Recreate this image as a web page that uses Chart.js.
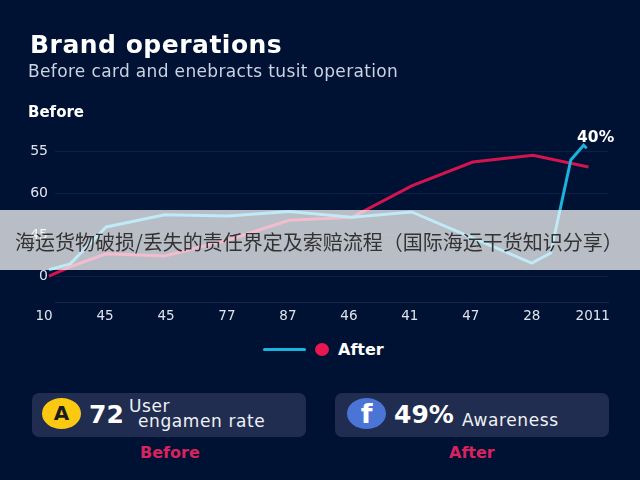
<!DOCTYPE html>
<html>
<head>
<meta charset="utf-8">
<script src="https://cdn.jsdelivr.net/npm/chart.js@4"></script>
<style>
body { margin: 0; background: #001233; }
#page { position: relative; width: 640px; height: 480px; overflow: hidden; background: #001233; font-family: 'DejaVu Sans', sans-serif; color: #fff; }
#page div { position: absolute; white-space: nowrap; }
#chartBox { left: 0; top: 0; width: 640px; height: 330px; }
.card { top: 393px; width: 274px; height: 44px; background: #212d50; border-radius: 7px; }
.icon { top: 398px; width: 39px; height: 31px; border-radius: 50%; text-align: center; line-height: 31px; font-weight: 700; }
.num { top: 400px; font-size: 25px; font-weight: 700; }
.small { font-size: 17px; letter-spacing: 0.6px; color: #eef1f6; }
.under { top: 443px; color: #d8235f; font-size: 16px; font-weight: 700; }
#band { left: 0; top: 210px; width: 640px; height: 60px; background: rgba(255,255,255,0.72); }
#bandText { left: 15px; top: 227px; font-family: 'Noto Sans CJK SC', sans-serif; font-size: 20px; line-height: 30px; color: #333; }
</style>
</head>
<body>
<div id="page">
  <div id="chartBox"><canvas id="myChart"></canvas></div>

  <div style="left:30px;top:30px;font-size:25px;letter-spacing:0.5px;font-weight:700;">Brand operations</div>
  <div style="left:28px;top:61px;font-size:17px;letter-spacing:0.35px;color:#c9d3e2;">Before card and enebracts tusit operation</div>
  <div style="left:28px;top:103px;font-size:15px;font-weight:700;">Before</div>

  <div style="left:263px;top:348px;width:43px;height:3px;background:#1cb2de;border-radius:2px;"></div>
  <div style="left:315px;top:343px;width:14px;height:13px;border-radius:50%;background:#e8174f;"></div>
  <div style="left:338px;top:340px;font-size:16px;font-weight:700;">After</div>

  <div class="card" style="left:32px;"></div>
  <div class="icon" style="left:42px;background:#fbc912;color:#1b1b1b;font-size:20px;">A</div>
  <div class="num" style="left:89px;">72</div>
  <div class="small" style="left:129px;top:396px;">User</div>
  <div class="small" style="left:138px;top:411px;">engamen rate</div>
  <div class="under" style="left:140px;">Before</div>

  <div class="card" style="left:335px;"></div>
  <div class="icon" style="left:347px;background:#4a74d6;font-size:27px;">f</div>
  <div class="num" style="left:394px;">49%</div>
  <div class="small" style="left:462px;top:410px;">Awareness</div>
  <div class="under" style="left:449px;">After</div>

  <div id="band"></div>
  <div id="bandText">海运货物破损/丢失的责任界定及索赔流程（国际海运干货知识分享）</div>
</div>

<script>
// x axis labels, one per whole slot
var xTickLabels = ['10', '45', '45', '77', '87', '46', '41', '47', '28', '2011'];

// y axis labels as printed, the axis is not in order
var yTickSlots = [0, 10, 20, 30];
var yTickLabels = ['0', '45', '60', '55'];

// cyan line
var cyanX = [0.08, 0.43, 1.02, 1.98, 3.02, 4.02, 5.05, 6.03, 8.0, 8.31, 8.64, 8.85, 8.9];
var cyanY = [1.7, 3.1, 11.9, 14.8, 14.5, 15.6, 14.2, 15.5, 3.3, 5.7, 27.9, 31.4, 30.7];

// red line
var redX = [0.08, 0.43, 1.02, 1.98, 3.02, 4.02, 5.05, 6.03, 7.03, 8.02, 8.93];
var redY = [0.2, 2.4, 5.5, 5, 8.8, 13.5, 14.2, 21.7, 27.4, 29, 26.2];

function toPoints(xs, ys) {
    return xs.map(function (x, i) { return { x: x, y: ys[i] }; });
}

// 40% label next to the top of the cyan line
var endLabel = {
    id: 'endLabel',
    afterDatasetsDraw: function (chart) {
        var c = chart.ctx;
        var px = chart.scales.x.getPixelForValue(cyanX[11]);
        var py = chart.scales.y.getPixelForValue(cyanY[11]);
        c.save();
        c.font = '700 15.5px "DejaVu Sans"';
        c.fillStyle = '#ffffff';
        c.textAlign = 'center';
        c.fillText('40%', px + 12, py - 3);
        c.restore();
    }
};

var ctx = document.getElementById('myChart').getContext('2d');

var myChart = new Chart(ctx, {
    type: 'line',
    data: {
        datasets: [
            { data: toPoints(cyanX, cyanY), borderColor: '#1cb2de', borderWidth: 3, pointRadius: 0, tension: 0, clip: false },
            { data: toPoints(redX, redY), borderColor: '#d3144f', borderWidth: 3, pointRadius: 0, tension: 0, clip: false }
        ]
    },
    plugins: [endLabel],
    options: {
        responsive: true,
        maintainAspectRatio: false,
        animation: false,
        layout: { padding: { top: 126, right: 32 } },
        plugins: { legend: { display: false }, tooltip: { enabled: false } },
        scales: {
            x: {
                type: 'linear',
                min: 0.18,
                max: 9.25,
                afterFit: function (scale) { scale.height = 28; },
                afterBuildTicks: function (scale) {
                    scale.ticks = xTickLabels.map(function (l, i) { return { value: i }; });
                },
                grid: { display: false },
                border: { color: '#16294d' },
                ticks: {
                    color: '#dfe4ec',
                    font: { family: 'DejaVu Sans', size: 13.5 },
                    padding: -2,
                    maxRotation: 0,
                    autoSkip: false,
                    callback: function (value) { return xTickLabels[value]; }
                }
            },
            y: {
                min: -6,
                max: 36,
                afterFit: function (scale) { scale.width = 55; },
                afterBuildTicks: function (scale) {
                    scale.ticks = yTickSlots.map(function (v) { return { value: v }; });
                },
                grid: { color: '#0e2145', drawTicks: false },
                border: { display: false },
                ticks: {
                    color: '#dfe4ec',
                    font: { family: 'DejaVu Sans', size: 14 },
                    padding: 7,
                    callback: function (value) { return yTickLabels[yTickSlots.indexOf(value)]; }
                }
            }
        }
    }
});
</script>
</body>
</html>
